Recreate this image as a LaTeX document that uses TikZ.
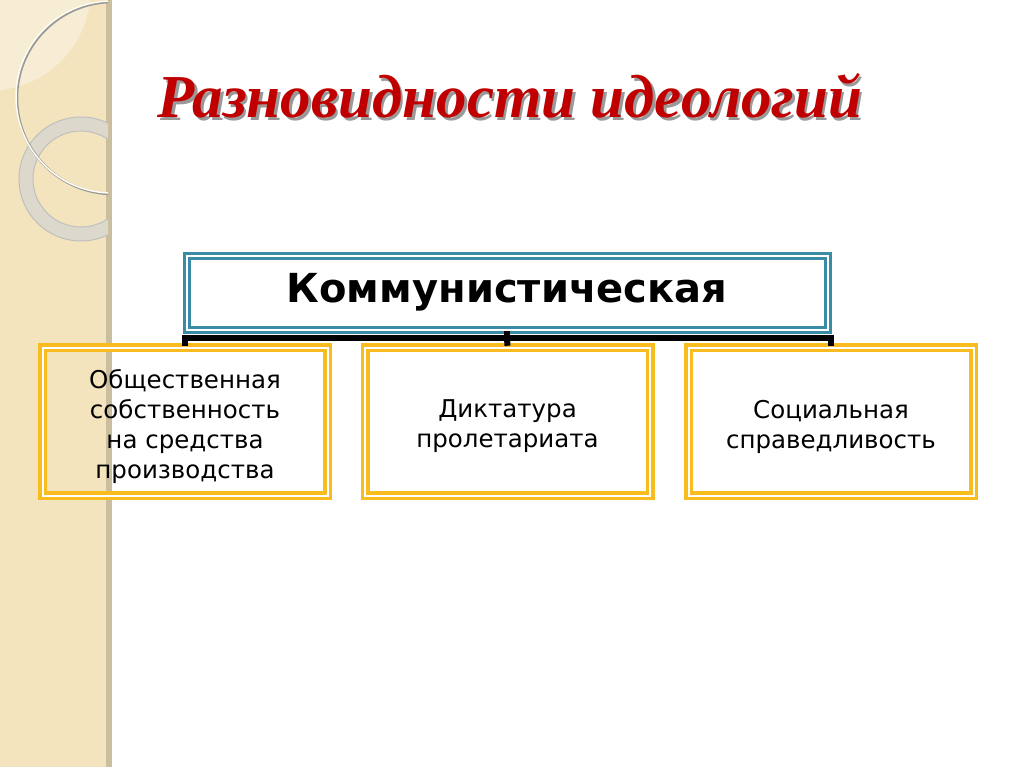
\documentclass[tikz,border=0pt]{standalone}
\usepackage{fontspec}
\setmainfont{Liberation Serif}
\newfontfamily\dvsans{DejaVu Sans}
\usetikzlibrary{calc}
\definecolor{titlered}{HTML}{C00000}
\definecolor{tealline}{HTML}{3A8BA5}
\definecolor{goldline}{HTML}{F8BC1E}
\definecolor{stripfill}{HTML}{F4E4BE}
\definecolor{stripedge}{HTML}{CBBE9F}
\definecolor{ringgray}{HTML}{DCD8CC}
\newcommand{\shadowtext}[1]{\rlap{\hspace{2.5pt}\raisebox{-2.5pt}{\textcolor{black!40}{#1}}}#1}
\tikzset{
  topbox/.style={draw=tealline, double=white, double distance=2pt, line width=3pt,
    minimum width=641pt, minimum height=74pt, inner sep=0pt,
    font=\dvsans\bfseries\fontsize{40}{44}\selectfont},
  childbox/.style={draw=goldline, double=white, double distance=2pt, line width=3.5pt,
    minimum width=285pt, minimum height=148pt, inner sep=0pt},
  childtext/.style={align=center, inner sep=0pt, font=\dvsans\fontsize{24.5}{30}\selectfont, yshift=-5pt},
  conn/.style={line width=6pt, black},
  titletext/.style={font=\bfseries\itshape\fontsize{61}{70}\selectfont, anchor=base, text=titlered}
}
\begin{document}
\begin{tikzpicture}[x=1pt,y=-1pt]
\useasboundingbox (0,0) rectangle (1024,767);
\fill[white] (0,0) rectangle (1024,767);
% left decorative strip
\fill[stripfill] (0,0) rectangle (108,767);
\fill[stripedge] (106,0) rectangle (112,767);
\begin{scope}
  \clip (0,0) rectangle (108,767);
  \fill[white, opacity=0.35] (-10,-10) circle (100.5);
  \fill[ringgray, even odd rule] (81,179) circle (62) (81,179) circle (48);
  \draw[black!25, line width=1pt] (81,179) circle (62);
  \draw[black!25, line width=1pt] (81,179) circle (48);
  \draw[black!40, line width=2.5pt] (113,98) circle (96);
  \draw[white!95!yellow, line width=1.5pt] (112,97) circle (96);
\end{scope}
% title
\node[titletext] (title) at (510,118) {\shadowtext{Разновидности идеологий}};
% boxes
\node[topbox] (top) at (507,292.5) {Коммунистическая};
\node[childbox, label={[childtext]center:Общественная\\собственность\\на средства\\производства}] (c1) at (185,421.5) {};
\node[childbox, label={[childtext]center:Диктатура\\пролетариата}] (c2) at (507.5,421.5) {};
\node[childbox, label={[childtext]center:Социальная\\справедливость}] (c3) at (831,421.5) {};
% connectors
\coordinate (bar) at ($(top.south)!0.5!(top.south |- c1.north)$);
\draw[conn] (top.south) -- (bar);
\draw[conn] (bar) -| (c1.north);
\draw[conn] (bar) -| (c3.north);
\draw[conn] (bar) -- (c2.north);
\end{tikzpicture}
\end{document}
